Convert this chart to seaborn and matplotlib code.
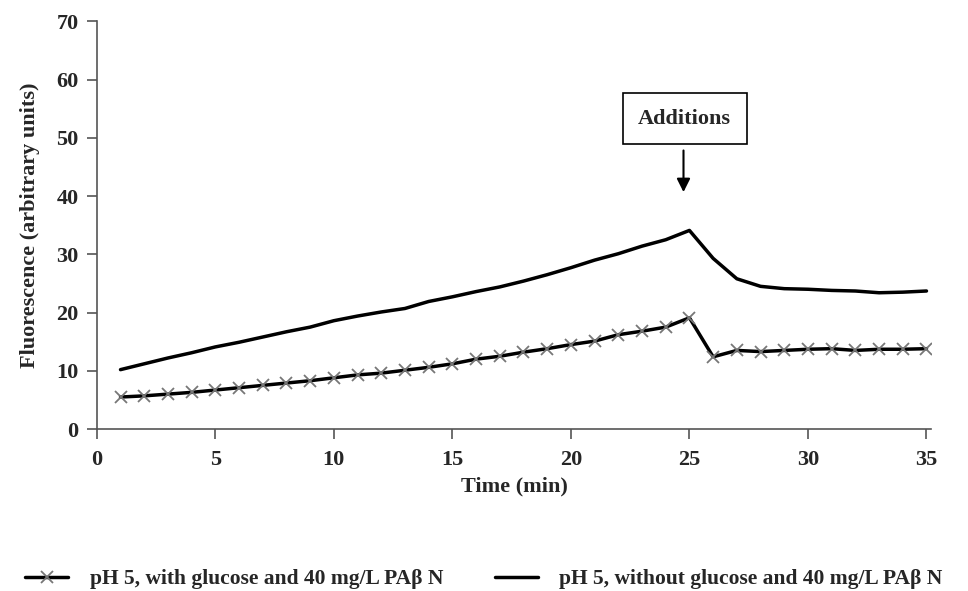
import matplotlib
matplotlib.use("Agg")
import matplotlib.pyplot as plt
import seaborn as sns
import pandas as pd

time_min = list(range(1, 36))
with_glucose = [5.5, 5.7, 6.0, 6.3, 6.7, 7.1, 7.5, 7.9, 8.3, 8.8,
                9.3, 9.6, 10.1, 10.6, 11.2, 12.0, 12.5, 13.2, 13.8, 14.5,
                15.1, 16.2, 16.8, 17.5, 19.1, 12.4, 13.5, 13.3, 13.5, 13.7,
                13.8, 13.5, 13.7, 13.7, 13.8]
without_glucose = [10.2, 11.2, 12.2, 13.1, 14.1, 14.9, 15.8, 16.7, 17.5, 18.6,
                   19.4, 20.1, 20.7, 21.9, 22.7, 23.6, 24.4, 25.4, 26.5, 27.7,
                   29.0, 30.1, 31.4, 32.5, 34.1, 29.3, 25.8, 24.5, 24.1, 24.0,
                   23.8, 23.7, 23.4, 23.5, 23.7]
label_with = "pH 5, with glucose and 40 mg/L PAβ N"
label_without = "pH 5, without glucose and 40 mg/L PAβ N"
x_ticks = [0, 5, 10, 15, 20, 25, 30, 35]
y_ticks = [0, 10, 20, 30, 40, 50, 60, 70]

df = pd.DataFrame({"t": time_min, "a": with_glucose, "b": without_glucose})

sns.set_style("white")
plt.rcParams["font.family"] = ["Liberation Serif", "DejaVu Serif"]
plt.rcParams["font.weight"] = "bold"

fig = plt.figure(figsize=(9.68, 5.91), dpi=100)
ax = fig.add_axes([0.100, 0.274, 0.862, 0.690])

sns.lineplot(data=df, x="t", y="a", ax=ax, color="black", linewidth=2.5,
             marker="x", markersize=9, markeredgecolor="#777777",
             markeredgewidth=1.3, label=label_with)
sns.lineplot(data=df, x="t", y="b", ax=ax, color="black", linewidth=2.5,
             label=label_without)

ax.set_xlim(0, 35.2)
ax.set_ylim(0, 70)
ax.set_xticks(x_ticks)
ax.set_yticks(y_ticks)
for s in ["top", "right"]:
    ax.spines[s].set_visible(False)
for s in ["left", "bottom"]:
    ax.spines[s].set_color("#555555")
    ax.spines[s].set_linewidth(1.2)
ax.tick_params(axis="both", direction="out", length=7, width=1.2,
               color="#555555", labelsize=16, left=True, bottom=True)
ax.tick_params(axis="x", pad=8)
ax.tick_params(axis="y", pad=6)
for lab in ax.get_xticklabels() + ax.get_yticklabels():
    lab.set_fontweight("bold")

ax.set_xlabel("Time (min)", fontsize=16, fontweight="bold", labelpad=5)
ax.set_ylabel("Fluorescence (arbitrary units)", fontsize=16, fontweight="bold",
              labelpad=12)

ax.annotate("", xy=(24.75, 40.2), xytext=(24.75, 48.3),
            arrowprops=dict(arrowstyle="-|>", color="black", lw=1.5,
                            mutation_scale=20))
ax.text(24.8, 53.3, "Additions", ha="center", va="center", fontsize=16,
        fontweight="bold",
        bbox=dict(boxstyle="square,pad=0.7", facecolor="white",
                  edgecolor="black", linewidth=1.2))

ax.get_legend().remove()
handles, labels = ax.get_legend_handles_labels()
fig.legend(handles, labels, loc="center", bbox_to_anchor=(0.5, 0.02), ncol=2,
           frameon=False, fontsize=15.5, handlelength=2.0,
           columnspacing=2.4, handletextpad=1.0, borderaxespad=0,
           borderpad=0)

fig.savefig("out.png", dpi=100)
